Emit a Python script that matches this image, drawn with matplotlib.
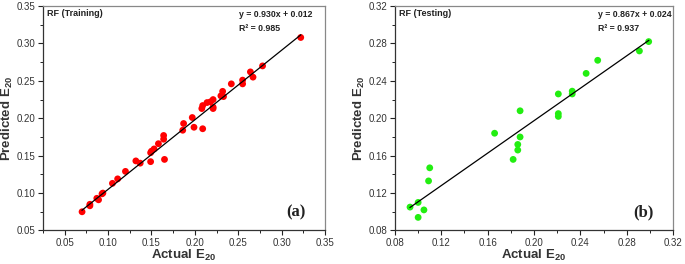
import matplotlib
matplotlib.use("Agg")
import matplotlib.pyplot as plt
import numpy as np
from matplotlib.ticker import MultipleLocator, FormatStrFormatter

plt.rcParams['font.family'] = ['Liberation Sans', 'DejaVu Sans']
plt.rcParams['mathtext.fontset'] = 'custom'
plt.rcParams['mathtext.bf'] = 'Liberation Sans:bold'
plt.rcParams['mathtext.rm'] = 'Liberation Sans:bold'
plt.rcParams['mathtext.default'] = 'bf'

# Training data (RF)
train_actual = [0.070, 0.079, 0.079, 0.087, 0.089, 0.093, 0.094, 0.105, 0.111, 0.120,
                0.132, 0.137, 0.149, 0.149, 0.150, 0.153, 0.158, 0.164, 0.164, 0.165,
                0.186, 0.187, 0.197, 0.199, 0.209, 0.208, 0.209, 0.214, 0.218, 0.221,
                0.221, 0.221, 0.230, 0.232, 0.233, 0.242, 0.255, 0.255, 0.264, 0.267,
                0.278, 0.322]
train_pred = [0.075, 0.085, 0.083, 0.093, 0.091, 0.099, 0.100, 0.113, 0.119, 0.129,
              0.143, 0.140, 0.142, 0.154, 0.156, 0.159, 0.166, 0.177, 0.172, 0.145,
              0.184, 0.193, 0.201, 0.188, 0.186, 0.213, 0.217, 0.221, 0.222, 0.225,
              0.215, 0.213, 0.230, 0.236, 0.229, 0.246, 0.246, 0.251, 0.262, 0.255,
              0.270, 0.308]

# Testing data (RF)
test_actual = [0.093, 0.100, 0.100, 0.105, 0.109, 0.110, 0.166, 0.182, 0.186, 0.186,
               0.188, 0.188, 0.221, 0.221, 0.221, 0.233, 0.233, 0.245, 0.255, 0.291,
               0.299]
test_pred = [0.105, 0.110, 0.094, 0.102, 0.133, 0.147, 0.184, 0.156, 0.166, 0.172,
             0.180, 0.208, 0.226, 0.205, 0.202, 0.229, 0.226, 0.248, 0.262, 0.272,
             0.282]

train_fit = (0.930, 0.012)
test_fit = (0.867, 0.024)
train_eq = ["y = 0.930x + 0.012", "R\u00b2 = 0.985"]
test_eq = ["y = 0.867x + 0.024", "R\u00b2 = 0.937"]

fig = plt.figure(figsize=(6.85, 2.64), dpi=100)
ax1 = fig.add_axes([0.0628, 0.127, 0.4117, 0.85])
ax2 = fig.add_axes([0.5766, 0.127, 0.4059, 0.85])


def style(ax, xlim, ylim, major, fmt):
    ax.set_xlim(*xlim)
    ax.set_ylim(*ylim)
    ax.xaxis.set_major_locator(MultipleLocator(major))
    ax.yaxis.set_major_locator(MultipleLocator(major))
    ax.xaxis.set_minor_locator(MultipleLocator(major / 2))
    ax.yaxis.set_minor_locator(MultipleLocator(major / 2))
    ax.xaxis.set_major_formatter(FormatStrFormatter(fmt))
    ax.yaxis.set_major_formatter(FormatStrFormatter(fmt))
    ax.tick_params(which='major', direction='out', length=3.5, width=0.8,
                   labelsize=7, colors='#222222', labelcolor='#333333', pad=2)
    ax.tick_params(which='minor', direction='out', length=2, width=0.7, colors='#222222')
    ax.tick_params(top=False, right=False, which='both')
    for s in ax.spines.values():
        s.set_color('#333333')
        s.set_linewidth(0.9)
    for s in ['top', 'right']:
        ax.spines[s].set_color('#888888')
    ax.set_xlabel(r"Actual E$_{20}$", fontsize=9.5, fontweight='bold', color='#333333', labelpad=0)
    ax.set_ylabel(r"Predicted E$_{20}$", fontsize=9.5, fontweight='bold', color='#333333', labelpad=1)


def panel(ax, xa, yp, fit, color, title, eq, eqx, tag, xlim, major, fmt):
    style(ax, xlim, xlim, major, fmt)
    ax.scatter(xa, yp, s=24, color=color, edgecolors='none', zorder=2)
    xs = np.array([min(xa), max(xa)])
    ax.plot(xs, fit[0] * xs + fit[1], color='black', lw=0.9, zorder=3)
    ax.text(0.015, 0.969, title, transform=ax.transAxes, fontsize=6.5,
            fontweight='bold', va='center', ha='left', color='#222222')
    ax.text(eqx, 0.962, eq[0], transform=ax.transAxes, fontsize=6.3,
            fontweight='bold', va='center', ha='left', color='#222222')
    ax.text(eqx, 0.898, eq[1], transform=ax.transAxes, fontsize=6.3,
            fontweight='bold', va='center', ha='left', color='#222222')
    ax.text(0.93, 0.08, tag, transform=ax.transAxes, fontsize=12,
            fontweight='bold', family='Liberation Serif', va='center', ha='right',
            color='#222222')


panel(ax1, train_actual, train_pred, train_fit, '#ff0000', 'RF (Training)',
      train_eq, 0.695, '(a)', (0.025, 0.35), 0.05, '%.2f')
ax1.set_ylim(0.05, 0.35)
panel(ax2, test_actual, test_pred, test_fit, '#22ee11', 'RF (Testing)',
      test_eq, 0.73, '(b)', (0.08, 0.32), 0.04, '%.2f')

fig.savefig('out.png', dpi=100)
